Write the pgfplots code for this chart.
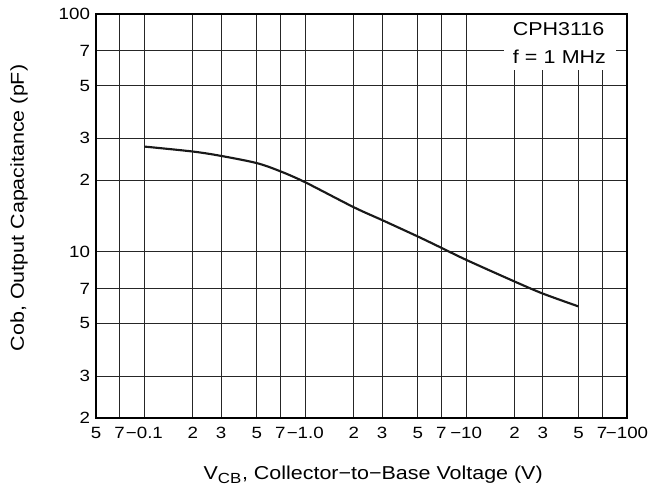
\documentclass[border=0pt]{standalone}
\usepackage{pgfplots}
\pgfplotsset{compat=1.18}
\usepackage{fontspec}
\setmainfont{Liberation Sans}[FakeStretch=1.15]
\begin{document}
\begin{tikzpicture}
\path[use as bounding box] (-72pt,-54pt) rectangle (420pt,313.5pt);
\begin{axis}[
  at={(0,0)}, anchor=south west,
  scale only axis, width=398.25pt, height=303pt,
  xmode=log, ymode=log,
  xmin=0.05, xmax=100, ymin=2, ymax=100,
  xtick={0.05,0.07,0.1,0.2,0.3,0.5,0.7,1,2,3,5,7,10,20,30,50,70,100},
  xticklabels={5,7,−0.1,2,3,5,7,−1.0,2,3,5,7,−10,2,3,5,7,−100},
  ytick={2,3,5,7,10,20,30,50,70,100},
  yticklabels={2,3,5,7,10,2,3,5,7,100},
  minor xtick={}, minor ytick={},
  major tick length=0pt,
  grid=major,
  grid style={black!85, line width=0.65pt},
  axis line style={black, line width=0.8pt},
  tick label style={font=\fontsize{12.2}{14}\selectfont},
  xticklabel style={yshift=-3.5pt},
  yticklabel style={xshift=-1pt},
  label style={font=\fontsize{14}{16}\selectfont},
  xlabel={V\textsubscript{\fontsize{11}{12}\selectfont CB}, Collector−to−Base Voltage (V)},
  ylabel={Cob, Output Capacitance (pF)},
  xlabel style={at={(axis description cs:0.522,-0.141)}, anchor=center},
  ylabel style={at={(axis description cs:-0.145,0.52)}, anchor=center},
]
\addplot[black!90, line width=1.6pt, smooth, tension=0.5] coordinates {
  (0.1,27.7) (0.2,26.4) (0.3,25.3) (0.5,23.6) (0.7,21.8) (1.0,19.6)
  (2,15.4) (3,13.6) (5,11.6) (7,10.4) (10,9.25)
  (20,7.5) (30,6.67) (50,5.89)
};
\draw[black, line width=1.5pt] (rel axis cs:0,1) -- (rel axis cs:0,0) -- (rel axis cs:1,0);
\node[anchor=north west, fill=white, inner xsep=6.5pt, inner ysep=4pt, align=left,
  font=\fontsize{14}{20.7}\selectfont, text width=71pt, minimum height=41.5pt, yshift=-0.6pt]
  at (rel axis cs:0.768,1) {CPH3116\\f = 1 MHz};
\end{axis}
\end{tikzpicture}
\end{document}
